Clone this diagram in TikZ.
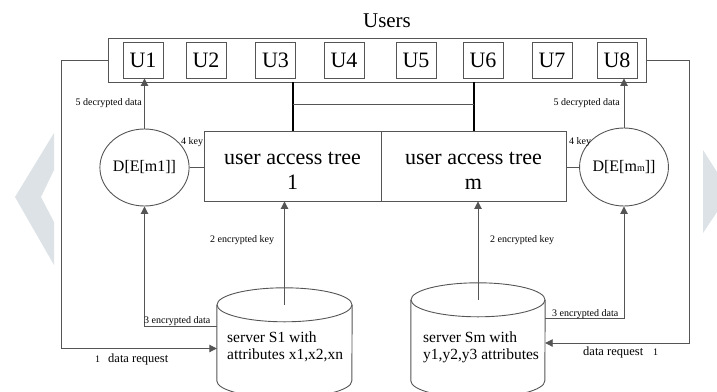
\documentclass[tikz,border=0pt]{standalone}
\usepackage{fontspec}
\setmainfont{Liberation Serif}
\usetikzlibrary{arrows.meta,shapes.geometric,calc}

\definecolor{linegray}{HTML}{555555}
\definecolor{markgray}{HTML}{DCE2E6}

\begin{document}
\begin{tikzpicture}[x=1pt,y=-1pt,
  line/.style={draw=linegray,line width=0.9pt},
  arr/.style={line,-{Triangle[width=7.5pt,length=7.5pt]}},
  thickline/.style={draw=black,line width=2pt},
  ubox/.style={draw=linegray,line width=0.9pt,minimum width=40pt,minimum height=36pt,inner sep=0,font=\fontsize{22}{24}\selectfont},
  treebox/.style={draw=linegray,line width=0.9pt,minimum height=70pt,inner sep=0,align=center,text height=46pt,font=\fontsize{22}{25}\selectfont},
  dec/.style={ellipse,draw=linegray,line width=0.9pt,minimum width=85pt,minimum height=77pt,inner sep=0,font=\fontsize{16}{18}\selectfont},
  lbl/.style={font=\fontsize{10}{12}\selectfont,inner sep=0},
  srv/.style={inner sep=0,align=left,font=\fontsize{15.5}{17}\selectfont},
  body/.style={inner sep=0},
]
\useasboundingbox (0,0) rectangle (717,391);

% faint chevrons in the margins
\fill[markgray] (54,133) -- (15,197) -- (54,265) -- (54,222) -- (41,197) -- (54,170) -- cycle;
\fill[markgray] (703,150) -- (717,172) -- (717,212) -- (703,233) -- cycle;

% users
\node[font=\fontsize{21}{24}\selectfont, anchor=base] (title) at (387,27) {Users};
\node[draw=linegray,line width=0.9pt,minimum width=538pt,minimum height=44pt,inner sep=0] (users) at (377,60) {};
\foreach \i/\x in {1/143,2/206,3/275.5,4/344,5/416,6/483,7/552,8/617}
  \node[ubox] (u\i) at (\x,60) {U\i};

% access trees
\node[treebox,minimum width=177pt] (tree1) at (292.5,166) {user access tree\\1};
\node[treebox,minimum width=185pt] (treem) at (473.5,166) {user access tree\\m};

% decryption
\node[dec] (c1) at (144.5,167.5) {D[E[m1]]};
\node[dec,minimum width=86pt,minimum height=78pt] (c2) at (624,167) {D[E[m{\fontsize{10}{10}\selectfont m}]]};

% servers
\node[body,minimum width=135pt,minimum height=87pt] (s1) at (284.5,348.5) {};
\node[body,minimum width=134pt,minimum height=92pt] (s2) at (478,346) {};
\begin{scope}
  \clip (0,0) rectangle (717,391);
  \draw[line] (s1.north west) -- ++(0,76)
     arc[start angle=180,end angle=360,x radius=67.5pt,y radius=17pt] -- (s1.north east);
  \draw[line] (s1.north) ellipse[x radius=67.5pt,y radius=17pt];
  \draw[line] (s2.north west) -- ++(0,81)
     arc[start angle=180,end angle=360,x radius=67pt,y radius=17pt] -- (s2.north east);
  \draw[line] (s2.north) ellipse[x radius=67pt,y radius=17pt];
\end{scope}
\node[srv,anchor=west] (s1txt) at (227,347) {server S1 with\\attributes x1,x2,xn};
\node[srv,anchor=west] (s2txt) at (423,347) {server Sm with\\y1,y2,y3 attributes};

% connectors
\draw[thickline] (tree1.north) -- (tree1.north |- users.south);
\draw[thickline] (treem.north) -- (treem.north |- users.south);
\draw[line] ([yshift=26pt]tree1.north) -- ([yshift=26pt]treem.north);

\draw[arr] (c1.north) -- (c1.north |- u1.south);
\draw[arr] (c2.north) -- (c2.north |- u8.south);
\draw[line] (c1.east) -- (c1.east -| tree1.west);
\draw[line] (c2.west) -- (c2.west -| treem.east);
\draw[arr] (s1.north) -- (s1.north |- tree1.south);
\draw[arr] (s2.north) -- (s2.north |- treem.south);
\draw[arr] ([yshift=22.5pt]s1.west) -| (c1.south);
\draw[arr] ([yshift=28pt]s2.east) -| (c2.south);
\draw[arr] (users.west) -- ++(-46,0) |- (s1.west);
\draw[arr] (users.east) -- ++(43,0) |- ([yshift=3pt]s2.east);

% labels
\node[lbl,anchor=base east] (l5a) at (142,105) {5 decrypted data};
\node[lbl,anchor=base east] (l5b) at (620,105) {5 decrypted data};
\node[lbl,anchor=base west] (l4a) at (181,144) {4 key};
\node[lbl,anchor=base west] (l4b) at (569,144) {4 key};
\node[lbl,anchor=base west] (l2a) at (210,242) {2 encrypted key};
\node[lbl,anchor=base west] (l2b) at (490,242) {2 encrypted key};
\node[lbl,anchor=base west] (l3a) at (144,323) {3 encrypted data};
\node[lbl,anchor=base west] (l3b) at (552,316) {3 encrypted data};
\node[lbl,anchor=base west] (l1a) at (95,362) {1\hspace{8pt}{\fontsize{12.5}{14}\selectfont data request}};
\node[lbl,anchor=base west] (l1b) at (583,355) {{\fontsize{12.5}{14}\selectfont data request}\hspace{10pt}1};
\end{tikzpicture}
\end{document}
